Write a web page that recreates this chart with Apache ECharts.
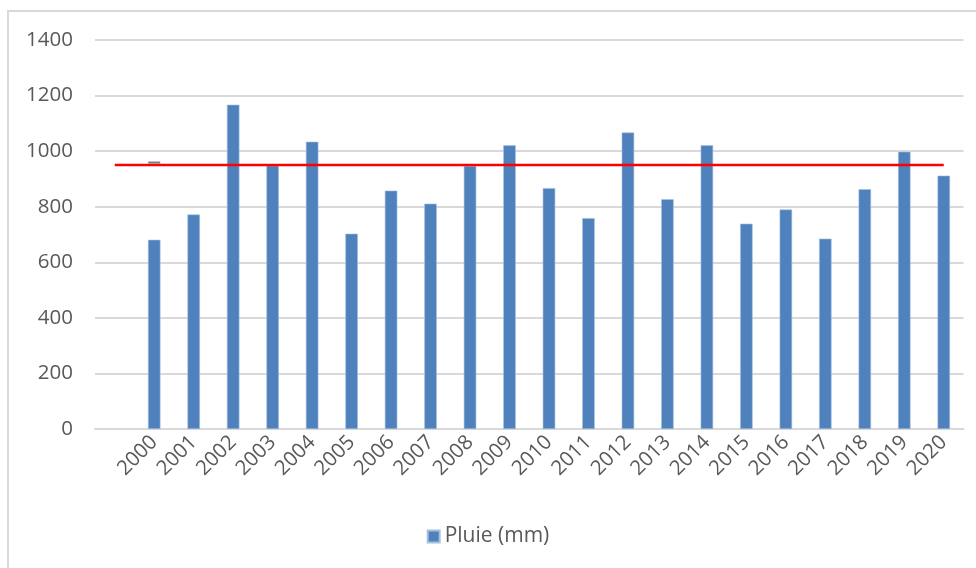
<!DOCTYPE html>
<html>
<head>
<meta charset="utf-8">
<script src="https://cdn.jsdelivr.net/npm/echarts@6/dist/echarts.min.js"></script>
<style>html,body{margin:0;padding:0;background:#fff}#c{width:976px;height:568px}</style>
</head>
<body>
<div id="c"></div>
<script>
var categories = ['', '2000','2001','2002','2003','2004','2005','2006','2007','2008','2009','2010','2011','2012','2013','2014','2015','2016','2017','2018','2019','2020'];
var pluie = [null, 681, 772, 1167, 948, 1034, 703, 858, 811, 947, 1021, 867, 759, 1067, 827, 1021, 739, 790, 685, 863, 998, 912];
var moyenne = [950, 950, 950, 950, 950, 950, 950, 950, 950, 950, 950, 950, 950, 950, 950, 950, 950, 950, 950, 950, 950, 950];
var marque = [null, 959, null, null, null, null, null, null, null, null, null, null, null, null, null, null, null, null, null, null, null, null];
var yTicks = [0, 200, 400, 600, 800, 1000, 1200, 1400];

var font = 'Open Sans';
var chart = echarts.init(document.getElementById('c'));
chart.setOption({
  animation: false,
  backgroundColor: '#fff',
  graphic: [{
    type: 'rect', silent: true,
    shape: { x: 8, y: 11, width: 1000, height: 600 },
    style: { fill: 'none', stroke: '#d9d9d9', lineWidth: 2 }
  }],
  grid: { left: 95, right: 12.5, top: 40, bottom: 139 },
  legend: {
    data: ['Pluie (mm)'],
    bottom: 16, left: 'center',
    itemWidth: 12, itemHeight: 12, itemGap: 10,
    icon: 'rect',
    textStyle: { fontFamily: font, fontSize: 21, color: '#595959' }
  },
  xAxis: {
    type: 'category',
    data: categories,
    axisLine: { lineStyle: { color: '#d9d9d9', width: 2 } },
    axisTick: { show: false },
    axisLabel: { rotate: 45, interval: 0, margin: 10, fontFamily: font, fontSize: 20.5, color: '#595959' }
  },
  yAxis: {
    type: 'value', min: yTicks[0], max: yTicks[yTicks.length - 1], interval: 200,
    axisLine: { show: false },
    axisTick: { show: false },
    splitLine: { lineStyle: { color: '#d9d9d9', width: 2 } },
    axisLabel: { margin: 22, fontFamily: font, fontSize: 20.5, color: '#595959', formatter: function (v) { return String(v); } }
  },
  series: [
    {
      name: 'Pluie (mm)', type: 'bar', data: pluie, barWidth: 12.5,
      itemStyle: { color: '#4f81bd', borderColor: '#a7c0de', borderWidth: 0.6 }
    },
    {
      name: 'moyenne', type: 'line', data: moyenne, symbol: 'none',
      lineStyle: { color: '#ff0000', width: 2.5 }, z: 3
    },
    {
      name: 'marque', type: 'scatter', data: marque, symbol: 'rect', symbolSize: [12, 2],
      itemStyle: { color: '#595959' }, z: 4
    }
  ]
});
</script>
</body>
</html>
